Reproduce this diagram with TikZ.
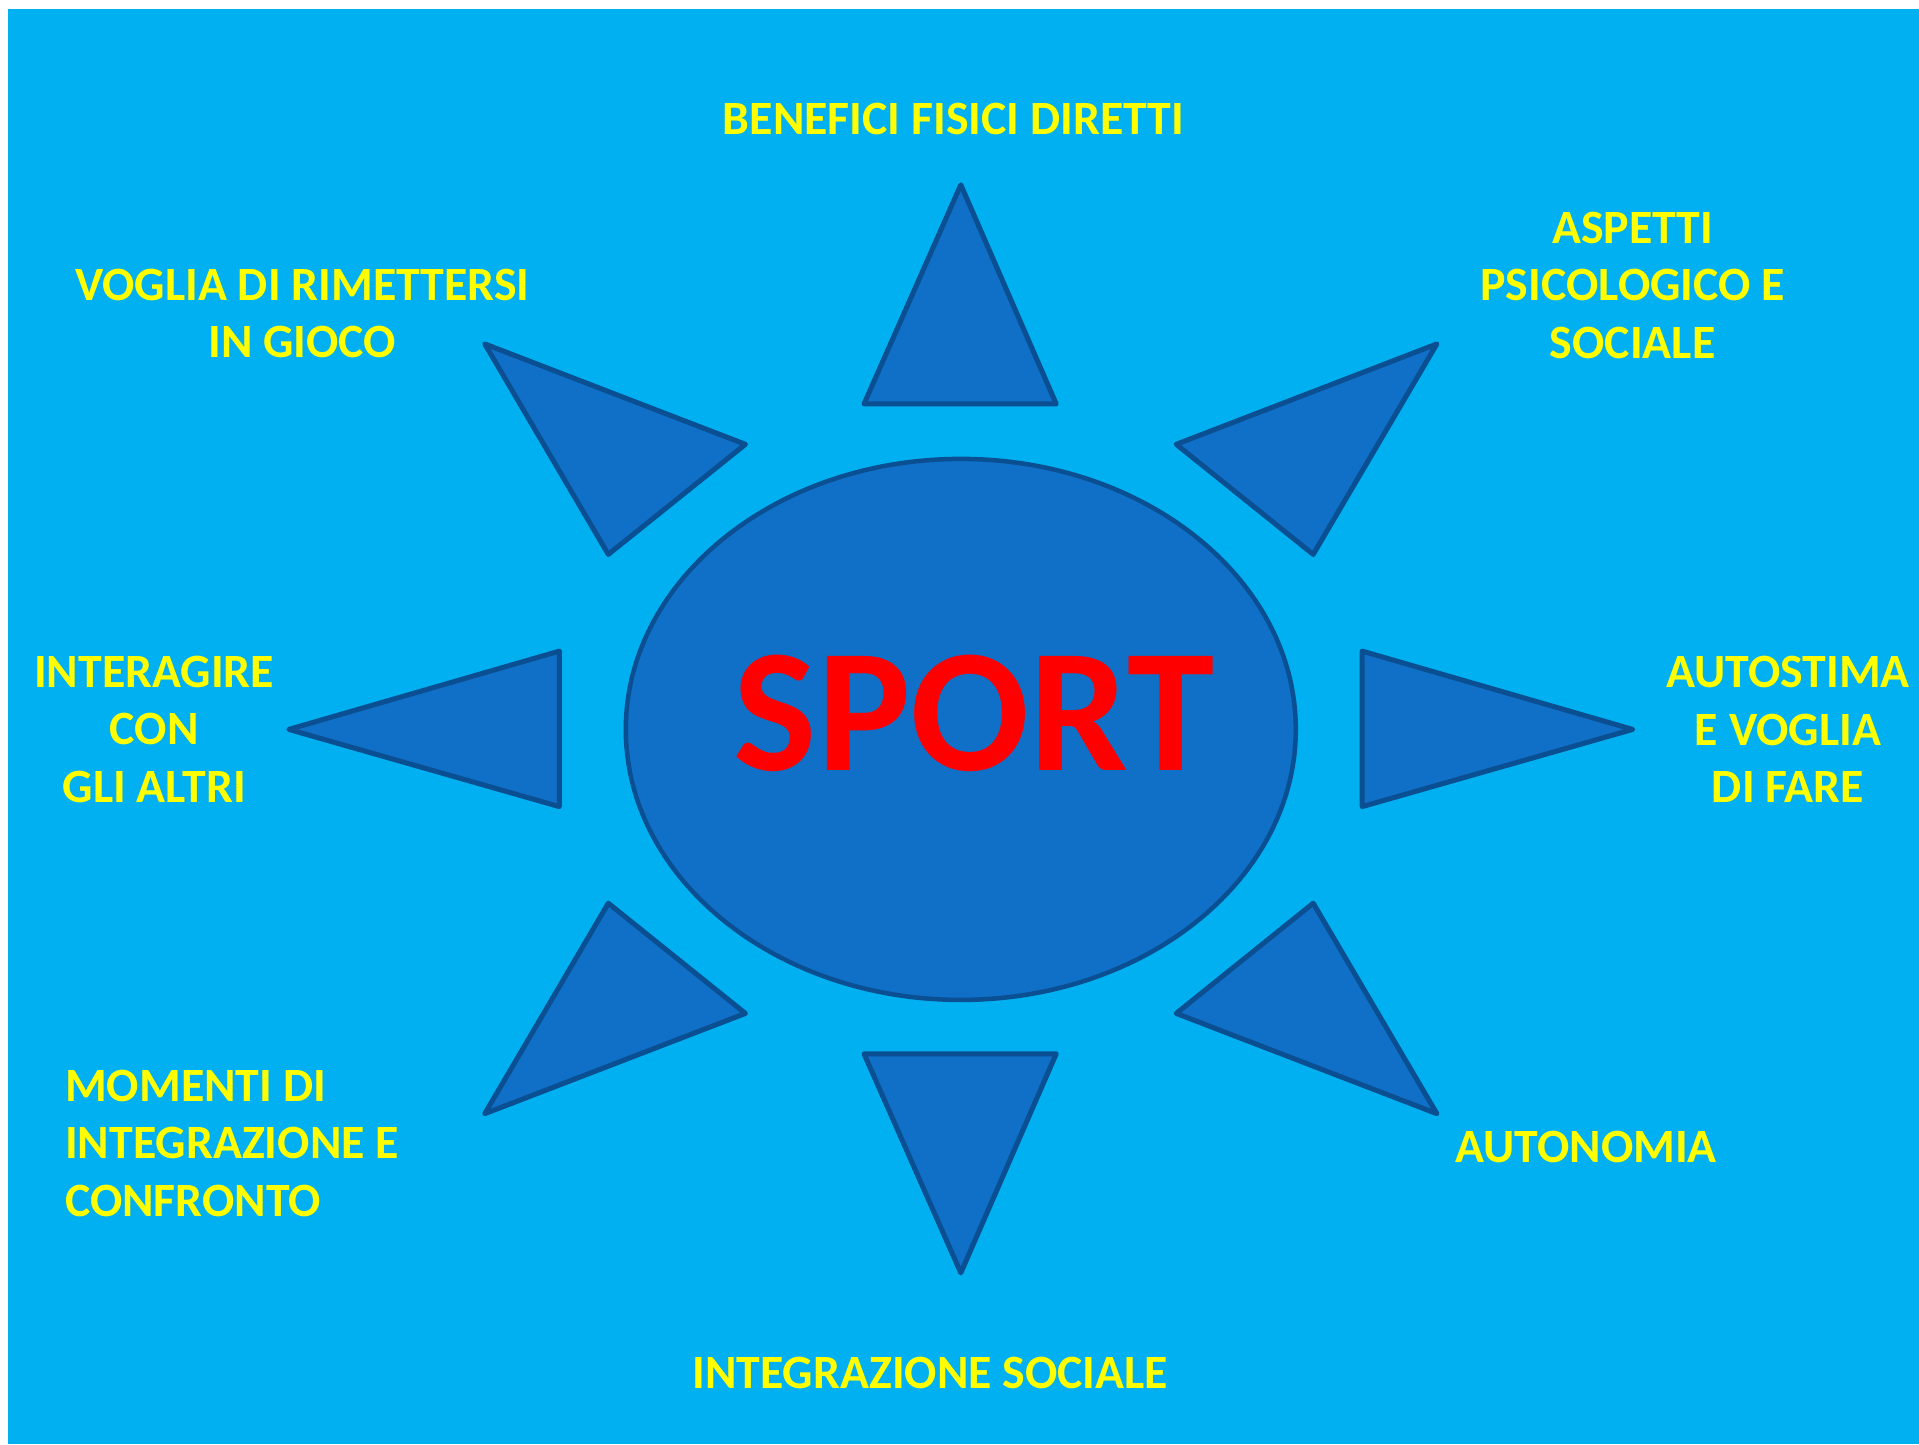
\documentclass[tikz,border=0pt]{standalone}
\usepackage{fontspec}
\setmainfont{Carlito}
\usetikzlibrary{shapes.geometric}
\definecolor{skyback}{RGB}{0,176,240}
\definecolor{rayfill}{RGB}{16,111,198}
\definecolor{rayline}{RGB}{10,79,145}
\definecolor{labelyellow}{RGB}{255,255,0}
\definecolor{sportred}{RGB}{255,0,0}

\begin{document}
\begin{tikzpicture}[x=1pt, y=-1pt,
  ray/.style={draw=rayline, fill=rayfill, line width=5pt, line join=round},
  hub/.style={ellipse, draw=rayline, fill=rayfill, line width=4.5pt, inner sep=0pt, minimum width=670pt, minimum height=541pt},
  lbl/.style={text=labelyellow, font=\fontsize{47.8}{57.5}\selectfont\bfseries, align=center, inner sep=0pt}
]
\useasboundingbox (0,0) rectangle (1919,1444);
\fill[skyback] (8,9) rectangle (1919,1444);

% rays of the sun
\draw[ray] (960.8,184.8) -- (1056.2,403.9) -- (864,403.9) -- cycle;
\draw[ray] (960.8,1272.9) -- (1056.2,1053.8) -- (864,1053.8) -- cycle;
\draw[ray] (288.8,729.4) -- (559.3,651.1) -- (559.3,806.6) -- cycle;
\draw[ray] (1632.7,729.4) -- (1362.2,651.1) -- (1362.2,806.6) -- cycle;
\draw[ray] (484.7,343.9) -- (745.4,444.3) -- (608.3,554.4) -- cycle;
\draw[ray] (1436.9,343.9) -- (1176.2,444.3) -- (1313.2,554.4) -- cycle;
\draw[ray] (484.7,1113.7) -- (745.4,1013.4) -- (608.3,903.2) -- cycle;
\draw[ray] (1436.9,1113.7) -- (1176.2,1013.4) -- (1313.2,903.2) -- cycle;

% centre
\node[hub] (hub) at (960.8,729.4) {};
\node[text=sportred, inner sep=0pt, font=\fontsize{176}{176}\selectfont\bfseries] (sport) at (974,713.5) {SPORT};

% labels
\node[lbl] (benefici) at (953.4,118.7) {BENEFICI FISICI DIRETTI};
\node[lbl] (voglia) at (302.3,313.3) {VOGLIA DI RIMETTERSI\\IN GIOCO};
\node[lbl] (aspetti) at (1632.7,285.2) {ASPETTI\\PSICOLOGICO E\\SOCIALE};
\node[lbl] (interagire) at (154.2,729.4) {INTERAGIRE\\CON\\GLI ALTRI};
\node[lbl] (autostima) at (1788,729.4) {AUTOSTIMA\\E VOGLIA\\DI FARE};
\node[lbl, align=left, anchor=west] (momenti) at (65,1143.1) {MOMENTI DI\\INTEGRAZIONE E\\CONFRONTO};
\node[lbl] (autonomia) at (1586.2,1146.8) {AUTONOMIA};
\node[lbl] (integrazione) at (930.2,1373.2) {INTEGRAZIONE SOCIALE};
\end{tikzpicture}
\end{document}
